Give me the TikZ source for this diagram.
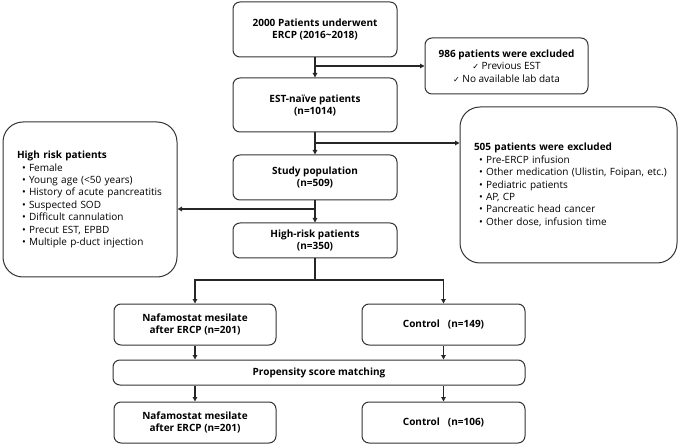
\documentclass[tikz,border=0pt]{standalone}
\usepackage{fontspec}
\setmainfont{Open Sans}
\newfontfamily\symfont{DejaVu Sans}
\usetikzlibrary{arrows.meta}
\newcommand\itm[1]{\mbox{\hspace*{5pt}\makebox[7pt][l]{\textbullet}#1}}
\newcommand\chk{{\symfont\fontsize{8}{8}\selectfont ✓}}
\begin{document}
\begin{tikzpicture}[x=1pt,y=-1pt,
  box/.style={draw=black!80, line width=1pt, rounded corners=7pt, align=center,
    font=\fontsize{10}{12}\selectfont\bfseries, inner sep=0pt},
  plainbox/.style={box, font=\fontsize{10}{12.4}\selectfont},
  bigbox/.style={draw=black!80, line width=1pt, rounded corners=20pt, align=left,
    inner xsep=14pt, inner ysep=0pt, font=\fontsize{10}{12.4}\selectfont},
  conn/.style={line width=1.2pt, black!85},
  arr/.style={conn, -{Triangle[length=4.5pt,width=4.5pt]}}]
\useasboundingbox (0,0) rectangle (685,446);

\node[box, minimum width=164pt, minimum height=55pt] (b1) at (315,29.5)
  {2000 Patients underwent\\ERCP (2016\textasciitilde2018)};
\node[plainbox, minimum width=163pt, minimum height=56pt] (ex1) at (506.5,66)
  {\textbf{986 patients were excluded}\\\chk\ Previous EST\\\chk\ No available lab data};
\node[box, minimum width=164pt, minimum height=54pt] (b2) at (315,105)
  {EST-naïve patients\\(n=1014)};
\node[bigbox, text width=189pt, minimum height=156pt] (ex2) at (568.5,185)
  {\textbf{505 patients were excluded}\\
   \itm{Pre-ERCP infusion}\\
   \itm{Other medication (Ulistin, Foipan, etc.)}\\
   \itm{Pediatric patients}\\
   \itm{AP, CP}\\
   \itm{Pancreatic head cancer}\\
   \itm{Other dose, infusion time}};
\node[box, minimum width=164pt, minimum height=45pt] (b3) at (315,177.5)
  {Study population\\(n=509)};
\node[bigbox, text width=146pt, minimum height=155pt] (hr) at (90,199.5)
  {\textbf{High risk patients}\\
   \itm{Female}\\
   \itm{Young age (<50 years)}\\
   \itm{History of acute pancreatitis}\\
   \itm{Suspected SOD}\\
   \itm{Difficult cannulation}\\
   \itm{Precut EST, EPBD}\\
   \itm{Multiple p-duct injection}};
\node[box, minimum width=164pt, minimum height=35pt] (b4) at (315,240.5)
  {High-risk patients\\(n=350)};
\node[box, minimum width=162pt, minimum height=41pt] (n1) at (195,324.5)
  {Nafamostat mesilate\\after ERCP (n=201)};
\node[box, minimum width=163pt, minimum height=41pt] (c1) at (443.5,324.5)
  {Control\hspace{8pt}(n=149)};
\node[box, minimum width=412pt, minimum height=25pt] (psm) at (319,372.5)
  {Propensity score matching};
\node[box, minimum width=162pt, minimum height=41pt] (n2) at (195,422.5)
  {Nafamostat mesilate\\after ERCP (n=201)};
\node[box, minimum width=163pt, minimum height=41pt] (c2) at (443.5,422.5)
  {Control\hspace{8pt}(n=106)};

\coordinate (j1) at (b1.south |- ex1.west);
\coordinate (j2) at (315,143);
\coordinate (j3) at (315,209);
\coordinate (j4) at (315,280);

\draw[arr] (b1) -- (b2);
\draw[arr] (j1) -- (ex1.west);
\draw[arr] (b2) -- (b3);
\draw[arr] (j2) -- (j2 -| ex2.west);
\draw[arr] (b3) -- (b4);
\draw[arr] (j3) -- (j3 -| hr.east);
\draw[conn] (b4.south) -- (j4);
\draw[arr] (j4) -| (n1.north);
\draw[arr] (j4) -| (c1.north);
\draw[arr] (n1) -- (n1 |- psm.north);
\draw[arr] (c1) -- (c1 |- psm.north);
\draw[arr] (psm.south -| n2.north) -- (n2.north);
\draw[arr] (psm.south -| c2.north) -- (c2.north);
\end{tikzpicture}
\end{document}
